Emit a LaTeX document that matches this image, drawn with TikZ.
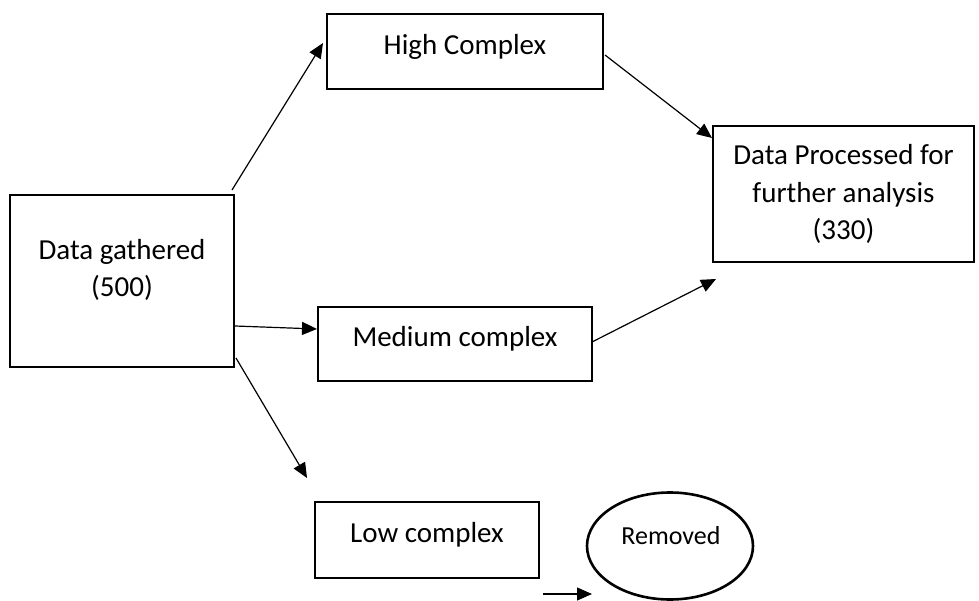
\documentclass[tikz,border=0pt]{standalone}
\usepackage{fontspec}
\setmainfont{Carlito}
\usetikzlibrary{arrows.meta,shapes.geometric}
\begin{document}
\begin{tikzpicture}[x=1pt,y=-1pt,
  box/.style={draw,line width=2.8pt,inner sep=0pt},
  lbl/.style={font=\fontsize{29}{37.5}\selectfont,align=center,inner sep=0pt,anchor=base},
  small/.style={font=\fontsize{26}{32}\selectfont,inner sep=0pt,anchor=base},
  conn/.style={line width=1.2pt,-{Triangle[length=15pt,width=13pt]}}]
\clip (0,0) rectangle (979,601);
\useasboundingbox (0,0) rectangle (979,601);
% boxes
\node[box,minimum width=224pt,minimum height=172pt] (gat) at (122,281) {};
\node[box,minimum width=276pt,minimum height=75pt] (high) at (465,51.5) {};
\node[box,minimum width=261pt,minimum height=136pt] (proc) at (843.5,194) {};
\node[box,minimum width=274pt,minimum height=74pt] (med) at (455,344) {};
\node[box,minimum width=224pt,minimum height=76pt] (low) at (427,540) {};
\node[draw,line width=2.6pt,ellipse,minimum width=166pt,minimum height=107pt,inner sep=0pt] (rem) at (670,546) {};
% texts
\node[lbl] (gatt) at (122,297) {Data gathered\\(500)};
\node[lbl] (hight) at (465,55) {High Complex};
\node[lbl] (proct) at (843.5,240) {Data Processed for\\further analysis\\(330)};
\node[lbl] (medt) at (455,346) {Medium complex};
\node[lbl] (lowt) at (427,542) {Low complex};
\node[small] (remt) at (671,544) {Removed};
% connector ends
\coordinate (g1) at (232,190);
\coordinate (h1) at (323,43);
\coordinate (h2) at (605,55);
\coordinate (p1) at (712,138);
\coordinate (g2) at (235,326);
\coordinate (m1) at (317,329);
\coordinate (m2) at (592,342);
\coordinate (p2) at (716,279);
\coordinate (g3) at (236,358);
\coordinate (d1) at (307,478);
\coordinate (s1) at (543,594);
\coordinate (s2) at (592,594);
% connectors
\draw[conn] (g1) -- (h1);
\draw[conn] (h2) -- (p1);
\draw[conn] (g2) -- (m1);
\draw[conn] (m2) -- (p2);
\draw[conn] (g3) -- (d1);
\draw[conn] (s1) -- (s2);
\end{tikzpicture}
\end{document}
